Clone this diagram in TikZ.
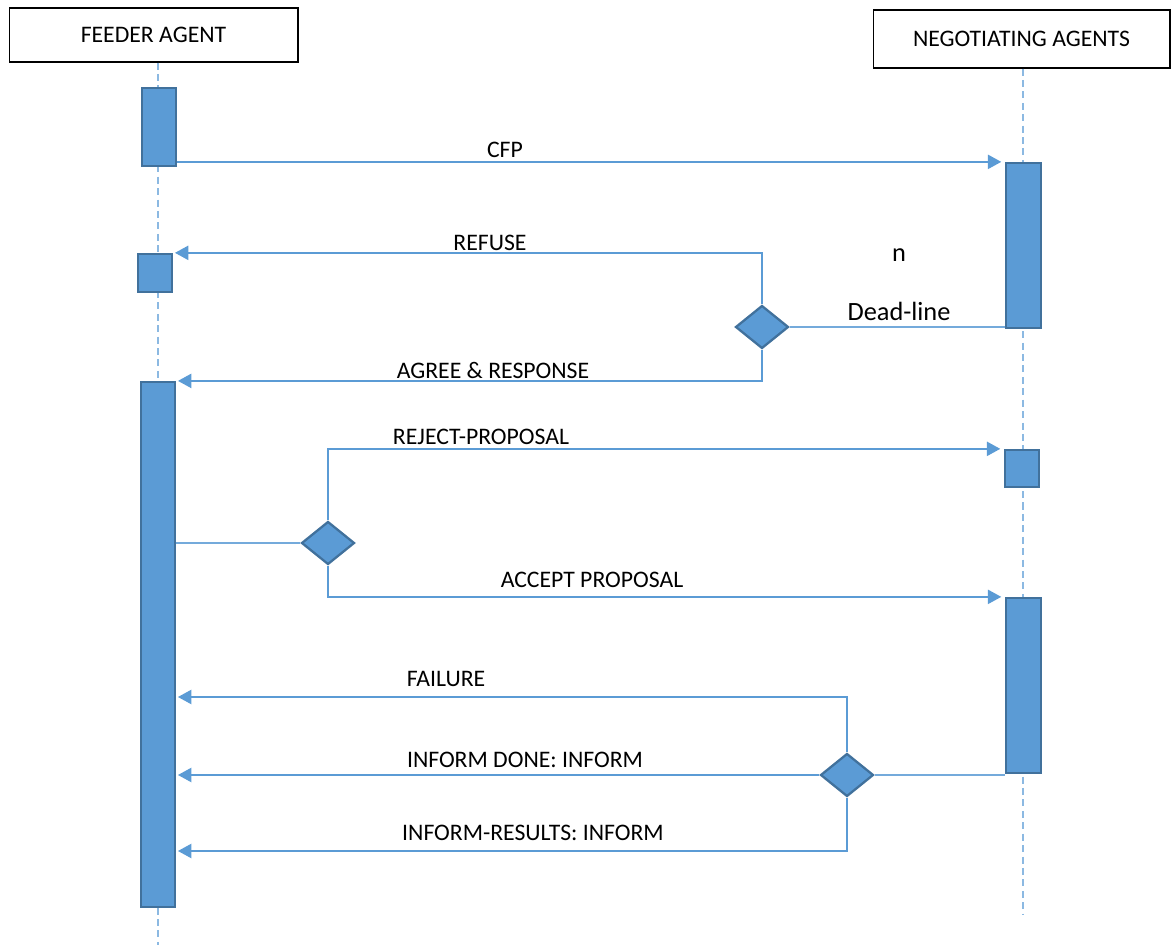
\documentclass[tikz,border=0pt]{standalone}
\usepackage{fontspec}
\setmainfont{Carlito}
\usepackage{tikz}
\usetikzlibrary{positioning, arrows.meta, shapes.geometric, calc}
\definecolor{boxblue}{HTML}{5B9BD5}
\definecolor{edgeblue}{HTML}{41719C}

\begin{document}
\begin{tikzpicture}[x=0.02cm, y=-0.02cm,
    agent/.style={draw=black, line width=0.6pt, minimum width=5.78cm, minimum height=1.08cm, font=\fontsize{13.5}{15}\selectfont},
    bar/.style={draw=edgeblue, fill=boxblue, line width=1.3pt, minimum width=0.68cm, inner sep=0pt},
    choice/.style={diamond, draw=edgeblue, fill=boxblue, line width=1.3pt, inner sep=0pt, minimum width=1.06cm, minimum height=0.86cm},
    lifeline/.style={draw=boxblue!70, line width=0.6pt, dash pattern=on 4pt off 2.5pt},
    msg/.style={draw=boxblue, line width=1.4pt, -{Triangle[length=0.27cm, width=0.28cm]}},
    link/.style={draw=boxblue!85, line width=0.9pt},
    lbl/.style={font=\fontsize{13.5}{15}\selectfont, inner sep=0pt}]
    \useasboundingbox (0,0) rectangle (1171,945);

    \node[agent] (feeder) at (153.5,35) {FEEDER AGENT};
    \node[agent, minimum width=5.94cm, minimum height=1.16cm] (nego) at (1021.5,39) {NEGOTIATING AGENTS};

    \draw[lifeline] (feeder.south -| 158,0) -- (158,945);
    \draw[lifeline] (nego.south -| 1023,0) -- (1023,915);

    \node[bar, minimum height=1.56cm] (fa1) at (159,127) {};
    \node[bar, minimum height=0.76cm] (fa2) at (155,273) {};
    \node[bar, minimum height=10.5cm] (fa3) at (158,644.5) {};
    \node[bar, minimum width=0.7cm, minimum height=3.3cm] (na1) at (1023.5,245.5) {};
    \node[bar, minimum height=0.74cm] (na2) at (1022,468.5) {};
    \node[bar, minimum width=0.7cm, minimum height=3.5cm] (na3) at (1023.5,685.5) {};

    \node[choice] (d1) at (762,327) {};
    \node[choice] (d2) at (328,543) {};
    \node[choice] (d3) at (847,775) {};

    \coordinate (fail) at (847,697);
    \coordinate (res) at (847,851);

    \draw[msg, shorten >=2pt] (fa1.east |- na1.north) -- (na1.north west);
    \draw[msg, shorten >=1pt] (d1.north) |- (fa2.north east);
    \draw[link] (d1.east) -- (d1.east -| na1.west);
    \draw[msg, shorten >=1pt] (d1.south) |- (fa3.north east);
    \draw[link] (fa3.east |- d2.west) -- (d2.west);
    \draw[msg, shorten >=2pt] (d2.north) |- (na2.north west);
    \draw[msg, shorten >=2pt] (d2.south) |- (na3.north west);
    \draw[link] (d3.east) -- (d3.east -| na3.west);
    \draw[msg, shorten >=1pt] (d3.north) -- (fail) -- (fa3.east |- fail);
    \draw[msg, shorten >=1pt] (d3.west) -- (fa3.east |- d3.west);
    \draw[msg, shorten >=1pt] (d3.south) -- (res) -- (fa3.east |- res);

    \node[lbl] at (505,150) {CFP};
    \node[lbl] at (490,243) {REFUSE};
    \node[lbl, font=\fontsize{15}{17}\selectfont] at (899,255) {n};
    \node[lbl, font=\fontsize{15}{17}\selectfont] at (899,311) {Dead-line};
    \node[lbl] at (493,370) {AGREE \& RESPONSE};
    \node[lbl] at (481,437) {REJECT-PROPOSAL};
    \node[lbl] at (592,580) {ACCEPT PROPOSAL};
    \node[lbl] at (446,679) {FAILURE};
    \node[lbl] at (525,760) {INFORM DONE: INFORM};
    \node[lbl] at (533,833) {INFORM-RESULTS: INFORM};
\end{tikzpicture}
\end{document}
